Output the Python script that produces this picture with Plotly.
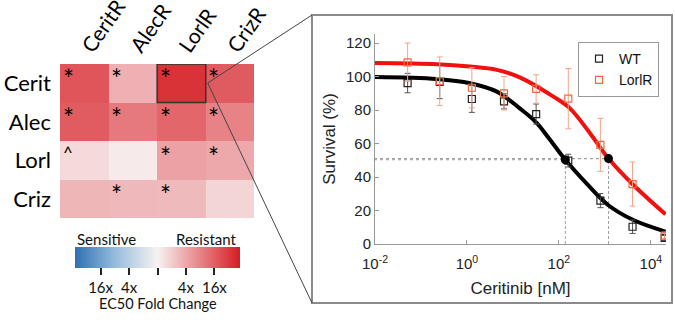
import plotly.graph_objects as go

# ---------------- Heatmap data (log2 EC50 fold change) ----------------
drug_rows = ["Cerit", "Alec", "Lorl", "Criz"]
resist_cols = ["CeritR", "AlecR", "LorlR", "CrizR"]
log2_fold = [
    [4.27, 1.80, 5.23, 4.10],
    [4.08, 3.27, 3.81, 3.05],
    [0.65, 0.22, 2.18, 2.00],
    [1.63, 1.55, 1.52, 0.79],
]
marks = [
    ["*", "*", "*", "*"],
    ["*", "*", "*", "*"],
    ["^", "", "*", "*"],
    ["", "*", "*", ""],
]
cbar_tickvals = [-4, -2, 0, 2, 4]
cbar_ticktext = ["16x", "4x", "", "4x", "16x"]

# ---------------- Dose response data ----------------
conc = [0.0512, 0.256, 1.28, 6.4, 32, 160, 800, 4000, 20000]
wt_surv = [96.1, 96.8, 86.6, 85.2, 77.6, 49.8, 25.9, 10.3, 3.6]
wt_err = [5.8, 10, 8, 4.5, 6, 3.8, 4.2, 4, 1.5]
lorl_surv = [108.5, 97.2, 93.3, 90.0, 92.6, 86.8, 59.2, 35.8, 5.0]
lorl_err = [11.5, 14.5, 12, 10, 8.5, 18, 15.8, 13.2, 2]

wt_fit_x = [0.0095, 0.22, 1.17, 4.47, 14.1, 32.4, 63, 138, 398, 1175, 4170, 20900]
wt_fit_y = [99.7, 98.5, 96, 91, 81, 72.5, 62.5, 50.3, 36.2, 23.3, 14.3, 7.4]
lorl_fit_x = [0.0095, 0.22, 1.17, 4.47, 14.1, 76, 174, 525, 1200, 4170, 20900]
lorl_fit_y = [108.1, 107.4, 106, 104, 99.5, 88, 81, 64.5, 51, 35.2, 17.7]

ec50_x = [138, 1200]
ec50_y = [50.3, 51.0]
x_left = 0.0095

W, H = 675, 323
def px(x):
    return x / W
def py(y):
    return 1 - y / H

LEFT_FONT = "Lato"
RIGHT_FONT = "Liberation Sans"

fig = go.Figure()

# Heatmap
fig.add_trace(go.Heatmap(
    z=log2_fold, x=list(range(len(resist_cols))), y=list(range(len(drug_rows))),
    coloraxis="coloraxis", xaxis="x", yaxis="y", hoverinfo="skip",
))

# Dose-response
grey = "#a0a0a0"
for xv, yv in zip(ec50_x, ec50_y):
    fig.add_trace(go.Scatter(x=[x_left, xv], y=[yv, yv], mode="lines",
                             line=dict(color=grey, width=1.2, dash="dot"),
                             xaxis="x2", yaxis="y2", showlegend=False, hoverinfo="skip"))
    fig.add_trace(go.Scatter(x=[xv, xv], y=[0, yv], mode="lines",
                             line=dict(color=grey, width=1, dash="3px,2px"),
                             xaxis="x2", yaxis="y2", showlegend=False, hoverinfo="skip"))

fig.add_trace(go.Scatter(x=wt_fit_x, y=wt_fit_y, mode="lines",
                         line=dict(color="black", width=4, shape="spline", smoothing=1.0),
                         xaxis="x2", yaxis="y2", showlegend=False, hoverinfo="skip"))
fig.add_trace(go.Scatter(x=lorl_fit_x, y=lorl_fit_y, mode="lines",
                         line=dict(color="#f20f0f", width=4, shape="spline", smoothing=1.0),
                         xaxis="x2", yaxis="y2", showlegend=False, hoverinfo="skip"))

fig.add_trace(go.Scatter(x=conc, y=wt_surv, mode="markers", name="WT",
                         marker=dict(symbol="square-open", color="#222222", size=7, line=dict(width=1.2)),
                         error_y=dict(type="data", array=wt_err, color="#555555", thickness=1, width=3),
                         xaxis="x2", yaxis="y2"))
fig.add_trace(go.Scatter(x=conc, y=lorl_surv, mode="markers", name="LorlR",
                         marker=dict(symbol="square-open", color="#ef6a3c", size=7, line=dict(width=1.2)),
                         error_y=dict(type="data", array=lorl_err, color="#f4a48a", thickness=1, width=3),
                         xaxis="x2", yaxis="y2"))
fig.add_trace(go.Scatter(x=ec50_x, y=ec50_y, mode="markers",
                         marker=dict(symbol="circle", color="black", size=9),
                         xaxis="x2", yaxis="y2", showlegend=False, hoverinfo="skip"))

# Annotations
ann = []
for j, row in enumerate(marks):
    for i, m in enumerate(row):
        if m:
            ann.append(dict(x=i - 0.5 + 0.17, y=j - 0.5 + (0.40 if m == "*" else 0.30), xref="x", yref="y",
                            text=m, showarrow=False, xanchor="center", yanchor="middle",
                            font=dict(family=LEFT_FONT, size=26 if m == "*" else 17, color="black")))
ann.append(dict(x=px(75), y=py(239), xref="paper", yref="paper", text="Sensitive", showarrow=False,
                xanchor="left", yanchor="middle", font=dict(family=LEFT_FONT, size=15, color="#111")))
ann.append(dict(x=px(239), y=py(239), xref="paper", yref="paper", text="Resistant", showarrow=False,
                xanchor="right", yanchor="middle", font=dict(family=LEFT_FONT, size=15, color="#111")))
ann.append(dict(x=px(158), y=py(303.5), xref="paper", yref="paper", text="EC50 Fold Change", showarrow=False,
                xanchor="center", yanchor="middle", font=dict(family=LEFT_FONT, size=14.5, color="#111")))

shapes = [
    dict(type="rect", xref="x", yref="y", x0=1.5, x1=2.5, y0=-0.5, y1=0.5,
         line=dict(color="#333333", width=1.5)),
    dict(type="rect", xref="paper", yref="paper", x0=px(312), x1=px(672), y0=py(15), y1=py(303),
         line=dict(color="#8a8a8a", width=2)),
    dict(type="line", xref="paper", yref="paper", x0=px(207.7), y0=py(83), x1=px(312), y1=py(15),
         line=dict(color="#444444", width=1)),
    dict(type="line", xref="paper", yref="paper", x0=px(207.7), y0=py(83), x1=px(312), y1=py(303),
         line=dict(color="#444444", width=1)),
]

fig.update_layout(
    template="none",
    width=W, height=H, autosize=False,
    margin=dict(l=0, r=0, t=0, b=0, autoexpand=False),
    paper_bgcolor="white", plot_bgcolor="white",
    annotations=ann, shapes=shapes,
    coloraxis=dict(
        cmin=-5.8, cmax=5.8,
        colorscale=[[0, "#2f6fb4"], [0.25, "#98bedd"], [0.5, "#f7f2f2"], [0.75, "#e8878b"], [1, "#d51d23"]],
        colorbar=dict(orientation="h", x=px(157.5), xanchor="center", y=py(247), yanchor="top",
                      len=165, lenmode="pixels", thickness=21, xpad=0, ypad=0,
                      outlinewidth=0, tickvals=cbar_tickvals, ticktext=cbar_ticktext,
                      ticks="outside", ticklen=7, tickwidth=1.5, tickcolor="#222",
                      tickfont=dict(family=LEFT_FONT, size=15, color="#111")),
    ),
    xaxis=dict(domain=[px(60), px(254.3)], range=[-0.5, 3.5], side="top", automargin=False,
               tickvals=list(range(4)), ticktext=resist_cols, tickangle=-55,
               tickfont=dict(family=LEFT_FONT, size=21, color="black"),
               showgrid=False, zeroline=False, showline=False, ticks="", anchor="y"),
    yaxis=dict(domain=[py(218.3), py(64)], range=[3.5, -0.5], automargin=False,
               tickvals=list(range(4)), ticktext=drug_rows,
               tickfont=dict(family=LEFT_FONT, size=22, color="black"),
               showgrid=False, zeroline=False, showline=False, ticks="", ticklabelstandoff=8,
               anchor="x"),
    xaxis2=dict(domain=[px(375), px(666)], type="log", range=[-2.0, 4.33], anchor="y2", automargin=False,
                tickvals=[0.01, 1, 100, 10000],
                ticktext=["10<sup>-2</sup>", "10<sup>0</sup>", "10<sup>2</sup>", "10<sup>4</sup>"],
                tickfont=dict(family=RIGHT_FONT, size=15, color="#222"), ticklabelstandoff=6,
                showgrid=False, zeroline=False, showline=True, linecolor="#999", linewidth=1,
                ticks="inside", ticklen=4, tickcolor="#999",
                title=dict(text="Ceritinib [nM]", font=dict(family=RIGHT_FONT, size=17, color="#222"),
                           standoff=11)),
    yaxis2=dict(domain=[py(244), py(34)], range=[0, 125.4], anchor="x2", automargin=False,
                tickvals=[0, 20, 40, 60, 80, 100, 120],
                tickfont=dict(family=RIGHT_FONT, size=15, color="#222"),
                showgrid=False, zeroline=False, showline=True, linecolor="#999", linewidth=1,
                ticks="inside", ticklen=4, tickcolor="#999",
                title=dict(text="Survival (%)", font=dict(family=RIGHT_FONT, size=17, color="#222"),
                           standoff=6)),
    legend=dict(x=px(659), xanchor="right", y=py(42), yanchor="top",
                bordercolor="#999", borderwidth=1, bgcolor="white",
                font=dict(family=RIGHT_FONT, size=14, color="#111"), itemwidth=30, tracegroupgap=0),
)

fig.write_html("out.html", config={"displayModeBar": False},
               post_script="document.body.style.margin='0px';")
